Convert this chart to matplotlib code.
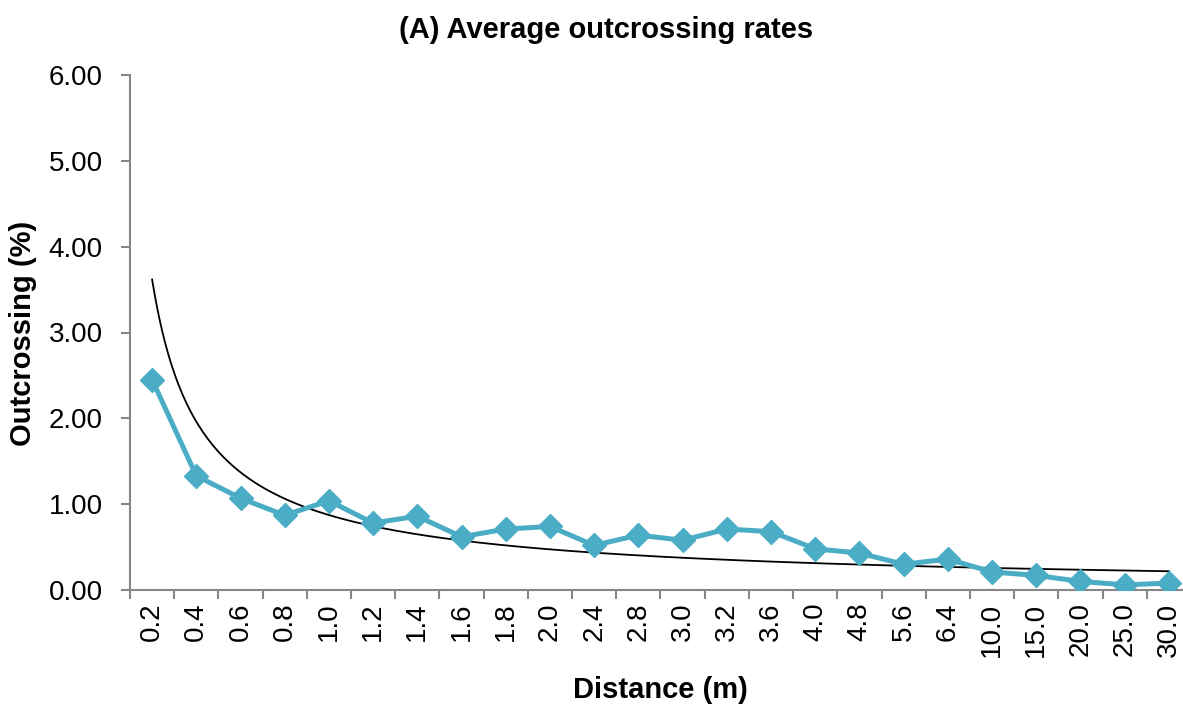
import numpy as np
import matplotlib
matplotlib.use("Agg")
import matplotlib.pyplot as plt

# Datos
distancias = ["0.2", "0.4", "0.6", "0.8", "1.0", "1.2", "1.4", "1.6", "1.8", "2.0",
              "2.4", "2.8", "3.0", "3.2", "3.6", "4.0", "4.8", "5.6", "6.4", "10.0",
              "15.0", "20.0", "25.0", "30.0"]
outcrossing = [2.45, 1.33, 1.07, 0.87, 1.04, 0.78, 0.86, 0.62, 0.71, 0.74,
               0.52, 0.64, 0.58, 0.71, 0.68, 0.48, 0.43, 0.30, 0.36, 0.21,
               0.17, 0.10, 0.06, 0.08]

plt.rcParams['font.family'] = ['Liberation Sans', 'DejaVu Sans']

fig = plt.figure(figsize=(11.83, 7.04), dpi=100)
ax = fig.add_axes([130 / 1183, 1 - 590 / 704, 1061 / 1183, 515 / 704])

x = np.arange(len(distancias))
ax.plot(x, outcrossing, color='#4BACC6', lw=3.6, marker='D', ms=12.5, zorder=3)

# Linea de tendencia potencial (como Excel): ajuste y = a * n^b
n = x + 1
b, ln_a = np.polyfit(np.log(n), np.log(outcrossing), 1)
xs = np.linspace(1, len(distancias), 400)
ax.plot(xs - 1, np.exp(ln_a) * xs ** b, color='black', lw=1.3, zorder=2)

ax.set_xlim(-0.5, len(distancias) - 0.5)
ax.set_ylim(0, 6)
ax.set_yticks(np.arange(0, 7, 1))
ax.set_yticklabels([f"{v:.2f}" for v in range(7)], fontsize=20)
ax.set_xticks(x)
ax.set_xticklabels(distancias, rotation=90, fontsize=20)
ax.tick_params(axis='x', length=0, pad=9)
ax.set_xticks(np.arange(-0.5, len(distancias)), minor=True)
ax.tick_params(axis='x', which='minor', length=6.5, color='#868686', width=1.5)
ax.tick_params(axis='y', length=6.5, color='#868686', width=1.5, pad=13)

for s in ['top', 'right']:
    ax.spines[s].set_visible(False)
for s in ['left', 'bottom']:
    ax.spines[s].set_color('#868686')
    ax.spines[s].set_linewidth(1.5)

fig.text(0.5 * (397 + 815) / 1183, 1 - 30 / 704, "(A) Average outcrossing rates",
         fontsize=21, fontweight='bold', ha='center', va='center')
ax.set_xlabel("Distance (m)", fontsize=21, fontweight='bold')
ax.set_ylabel("Outcrossing (%)", fontsize=21, fontweight='bold')
ax.xaxis.set_label_coords((660 - 130) / 1061, (590 - 690) / 515)
ax.yaxis.set_label_coords((23 - 130) / 1061, (590 - 333) / 515)
ax.xaxis.label.set_va('center')
ax.yaxis.label.set_va('center')

fig.savefig("out.png", dpi=100)
